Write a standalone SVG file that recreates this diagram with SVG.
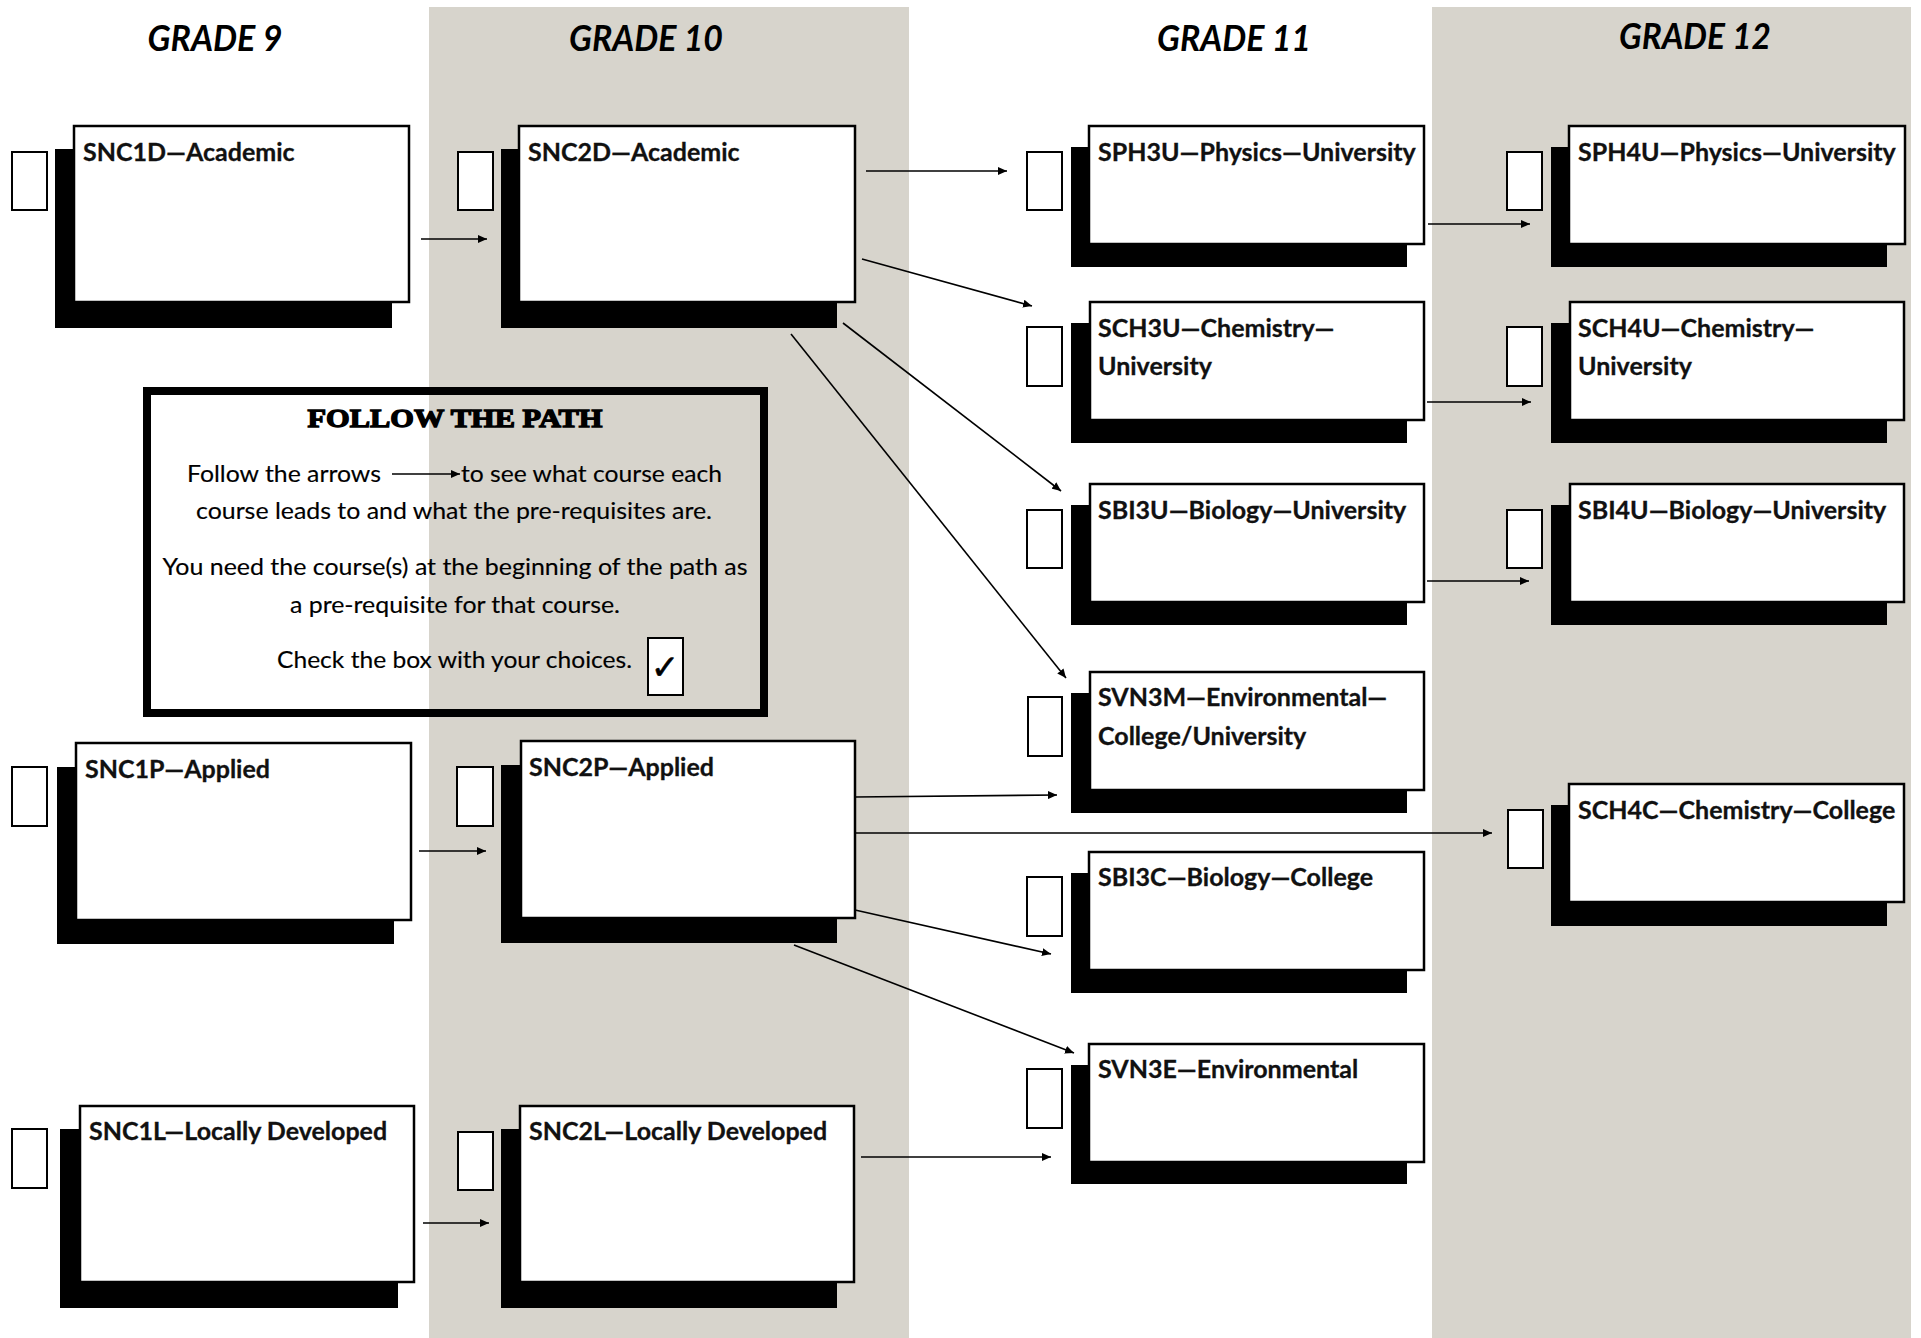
<svg xmlns="http://www.w3.org/2000/svg" width="1921" height="1338" viewBox="0 0 1921 1338">
<style>
.band{fill:#d7d4cc}
.hdr{font-family:Lato,"Liberation Sans",sans-serif;font-weight:bold;font-style:italic;font-size:36px;fill:#000}
.shadow{fill:#000}
.box{fill:#fff;stroke:#000;stroke-width:2.5}
.cb{fill:#fff;stroke:#000;stroke-width:2}
.lbl{font-family:Lato,"Liberation Sans",sans-serif;font-weight:bold;font-size:25px;fill:#111;stroke:#111;stroke-width:0.3}
.body{font-family:Lato,"Liberation Sans",sans-serif;font-size:22.5px;fill:#000;stroke:#000;stroke-width:0.15}
.conn line{stroke:#000;stroke-width:1.6;marker-end:url(#ah)}
</style>
<defs>
<marker id="ah" markerUnits="userSpaceOnUse" markerWidth="10" markerHeight="8" refX="9" refY="4" orient="auto">
<path d="M0,0 L9,4 L0,8 Z" fill="#000"/>
</marker>
</defs>
<rect width="1921" height="1338" fill="#fff"/>
<rect class="band" x="429" y="7" width="480" height="1331"/>
<rect class="band" x="1432" y="7" width="479" height="1331"/>

<g id="headers">
<text class="hdr" x="215" y="51" text-anchor="middle" textLength="135" lengthAdjust="spacingAndGlyphs">GRADE 9</text>
<text class="hdr" x="646" y="51" text-anchor="middle" textLength="154" lengthAdjust="spacingAndGlyphs">GRADE 10</text>
<text class="hdr" x="1234" y="51" text-anchor="middle" textLength="154" lengthAdjust="spacingAndGlyphs">GRADE 11</text>
<text class="hdr" x="1695" y="49" text-anchor="middle" textLength="152" lengthAdjust="spacingAndGlyphs">GRADE 12</text>
</g>

<g id="info">
<rect x="147" y="391" width="617" height="322" fill="none" stroke="#000" stroke-width="8"/>
<text x="455" y="427" text-anchor="middle" font-family="'Liberation Serif',serif" font-weight="bold" font-size="26" stroke="#000" stroke-width="1.3" textLength="295" lengthAdjust="spacingAndGlyphs">FOLLOW THE PATH</text>
<text class="body" x="187" y="482" textLength="194" lengthAdjust="spacingAndGlyphs">Follow the arrows</text>
<line x1="392" y1="474" x2="460" y2="474" stroke="#000" stroke-width="1.6" marker-end="url(#ah)"/>
<text class="body" x="461" y="482" textLength="261" lengthAdjust="spacingAndGlyphs">to see what course each</text>
<text class="body" x="454" y="519" text-anchor="middle" textLength="516" lengthAdjust="spacingAndGlyphs">course leads to and what the pre-requisites are.</text>
<text class="body" x="455" y="575" text-anchor="middle" textLength="585" lengthAdjust="spacingAndGlyphs">You need the course(s) at the beginning of the path as</text>
<text class="body" x="455" y="613" text-anchor="middle" textLength="330" lengthAdjust="spacingAndGlyphs">a pre-requisite for that course.</text>
<text class="body" x="277" y="668" textLength="355" lengthAdjust="spacingAndGlyphs">Check the box with your choices.</text>
<rect class="cb" x="648" y="638" width="35" height="57"/>
<text x="665" y="679" text-anchor="middle" font-family="'DejaVu Sans',sans-serif" font-size="34" stroke="#000" stroke-width="0.6">✓</text>
</g>

<g id="connectors" class="conn">
<line x1="421" y1="239" x2="487" y2="239"/>
<line x1="419" y1="851" x2="486" y2="851"/>
<line x1="423" y1="1223" x2="489" y2="1223"/>
<line x1="866" y1="171" x2="1007" y2="171"/>
<line x1="862" y1="259" x2="1032" y2="306"/>
<line x1="843" y1="323" x2="1061" y2="491"/>
<line x1="791" y1="334" x2="1066" y2="678"/>
<line x1="855" y1="797" x2="1057" y2="795"/>
<line x1="855" y1="833" x2="1492" y2="833"/>
<line x1="855" y1="910" x2="1051" y2="954"/>
<line x1="794" y1="945" x2="1074" y2="1053"/>
<line x1="861" y1="1157" x2="1051" y2="1157"/>
<line x1="1428" y1="224" x2="1530" y2="224"/>
<line x1="1427" y1="402" x2="1531" y2="402"/>
<line x1="1427" y1="581" x2="1529" y2="581"/>
</g>

<g id="SNC1D">
<rect class="cb" x="12" y="152" width="35" height="58"/>
<rect class="shadow" x="55" y="149" width="337" height="179"/>
<rect class="box" x="74" y="126" width="335" height="176"/>
<text class="lbl" x="83" y="161">SNC1D—Academic</text>
</g>
<g id="SNC2D">
<rect class="cb" x="458" y="152" width="35" height="58"/>
<rect class="shadow" x="501" y="149" width="336" height="179"/>
<rect class="box" x="519" y="126" width="336" height="176"/>
<text class="lbl" x="528" y="161">SNC2D—Academic</text>
</g>
<g id="SNC1P">
<rect class="cb" x="12" y="767" width="35" height="59"/>
<rect class="shadow" x="57" y="767" width="337" height="177"/>
<rect class="box" x="76" y="743" width="335" height="177"/>
<text class="lbl" x="85" y="778">SNC1P—Applied</text>
</g>
<g id="SNC2P">
<rect class="cb" x="457" y="767" width="36" height="59"/>
<rect class="shadow" x="501" y="765" width="336" height="178"/>
<rect class="box" x="521" y="741" width="334" height="177"/>
<text class="lbl" x="529" y="776">SNC2P—Applied</text>
</g>
<g id="SNC1L">
<rect class="cb" x="12" y="1129" width="35" height="59"/>
<rect class="shadow" x="60" y="1129" width="338" height="179"/>
<rect class="box" x="80" y="1106" width="334" height="176"/>
<text class="lbl" x="89" y="1140">SNC1L—Locally Developed</text>
</g>
<g id="SNC2L">
<rect class="cb" x="458" y="1132" width="35" height="58"/>
<rect class="shadow" x="501" y="1129" width="336" height="179"/>
<rect class="box" x="520" y="1106" width="334" height="176"/>
<text class="lbl" x="529" y="1140">SNC2L—Locally Developed</text>
</g>
<g id="SPH3U">
<rect class="cb" x="1027" y="152" width="35" height="58"/>
<rect class="shadow" x="1071" y="147" width="336" height="120"/>
<rect class="box" x="1089" y="126" width="335" height="118"/>
<text class="lbl" x="1098" y="161">SPH3U—Physics—University</text>
</g>
<g id="SCH3U">
<rect class="cb" x="1027" y="327" width="35" height="59"/>
<rect class="shadow" x="1071" y="323" width="336" height="120"/>
<rect class="box" x="1090" y="302" width="334" height="118"/>
<text class="lbl" x="1098" y="337">SCH3U—Chemistry—</text>
<text class="lbl" x="1098" y="375">University</text>
</g>
<g id="SBI3U">
<rect class="cb" x="1027" y="510" width="35" height="58"/>
<rect class="shadow" x="1071" y="505" width="336" height="120"/>
<rect class="box" x="1090" y="484" width="334" height="118"/>
<text class="lbl" x="1098" y="519">SBI3U—Biology—University</text>
</g>
<g id="SVN3M">
<rect class="cb" x="1028" y="697" width="34" height="59"/>
<rect class="shadow" x="1071" y="693" width="336" height="120"/>
<rect class="box" x="1090" y="672" width="334" height="118"/>
<text class="lbl" x="1098" y="706">SVN3M—Environmental—</text>
<text class="lbl" x="1098" y="745">College/University</text>
</g>
<g id="SBI3C">
<rect class="cb" x="1027" y="877" width="35" height="59"/>
<rect class="shadow" x="1071" y="873" width="336" height="120"/>
<rect class="box" x="1089" y="852" width="335" height="118"/>
<text class="lbl" x="1098" y="886">SBI3C—Biology—College</text>
</g>
<g id="SVN3E">
<rect class="cb" x="1027" y="1069" width="35" height="59"/>
<rect class="shadow" x="1071" y="1065" width="336" height="119"/>
<rect class="box" x="1089" y="1044" width="335" height="118"/>
<text class="lbl" x="1098" y="1078">SVN3E—Environmental</text>
</g>
<g id="SPH4U">
<rect class="cb" x="1507" y="152" width="35" height="58"/>
<rect class="shadow" x="1551" y="147" width="336" height="120"/>
<rect class="box" x="1569" y="126" width="336" height="118"/>
<text class="lbl" x="1578" y="161">SPH4U—Physics—University</text>
</g>
<g id="SCH4U">
<rect class="cb" x="1507" y="327" width="35" height="59"/>
<rect class="shadow" x="1551" y="323" width="336" height="120"/>
<rect class="box" x="1570" y="302" width="334" height="118"/>
<text class="lbl" x="1578" y="337">SCH4U—Chemistry—</text>
<text class="lbl" x="1578" y="375">University</text>
</g>
<g id="SBI4U">
<rect class="cb" x="1507" y="510" width="35" height="58"/>
<rect class="shadow" x="1551" y="505" width="336" height="120"/>
<rect class="box" x="1570" y="484" width="334" height="118"/>
<text class="lbl" x="1578" y="519">SBI4U—Biology—University</text>
</g>
<g id="SCH4C">
<rect class="cb" x="1508" y="810" width="35" height="58"/>
<rect class="shadow" x="1551" y="805" width="336" height="121"/>
<rect class="box" x="1569" y="784" width="335" height="118"/>
<text class="lbl" x="1578" y="819">SCH4C—Chemistry—College</text>
</g>
</svg>
